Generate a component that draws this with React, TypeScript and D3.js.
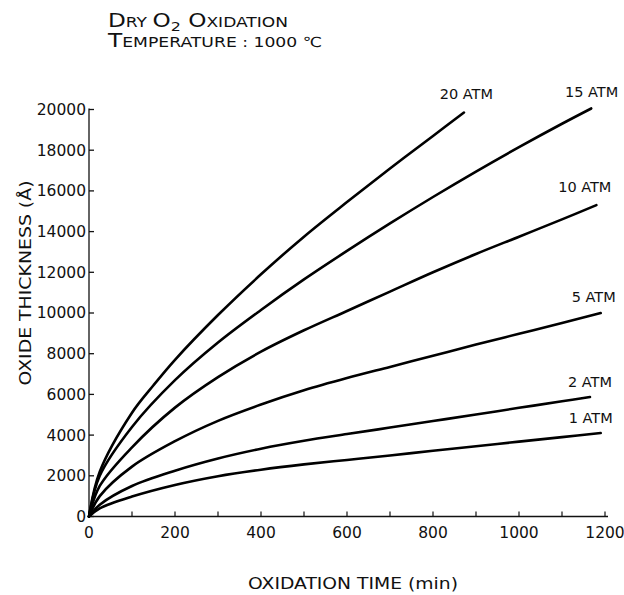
import React, { useEffect } from 'react';
import * as d3 from 'd3';

// oxidation time (min) and oxide thickness (Å)
const pressures = ['1 ATM', '2 ATM', '5 ATM', '10 ATM', '15 ATM', '20 ATM'];
const times1 = [0, 25, 100, 200, 300, 400, 500, 600, 700, 800, 900, 1000, 1100, 1190];
const thick1 = [0, 400, 980, 1550, 1980, 2300, 2560, 2780, 3000, 3230, 3450, 3680, 3900, 4100];
const times2 = [0, 25, 100, 200, 300, 400, 500, 600, 700, 800, 900, 1000, 1100, 1165];
const thick2 = [0, 580, 1500, 2250, 2850, 3330, 3720, 4050, 4370, 4690, 5010, 5340, 5660, 5870];
const times5 = [0, 25, 100, 200, 300, 400, 500, 600, 700, 800, 900, 1000, 1100, 1190];
const thick5 = [0, 1000, 2450, 3700, 4700, 5500, 6200, 6800, 7350, 7900, 8450, 8980, 9510, 10000];
const times10 = [0, 25, 100, 200, 300, 400, 500, 600, 700, 800, 900, 1000, 1100, 1180];
const thick10 = [0, 1500, 3400, 5350, 6850, 8100, 9150, 10100, 11050, 12000, 12900, 13750, 14600, 15300];
const times15 = [0, 25, 100, 200, 300, 400, 500, 600, 700, 800, 900, 1000, 1100, 1168];
const thick15 = [0, 2000, 4400, 6700, 8550, 10150, 11650, 13050, 14400, 15700, 16950, 18150, 19300, 20050];
const times20 = [0, 25, 100, 150, 200, 300, 400, 500, 600, 700, 800, 872];
const thick20 = [0, 2200, 5100, 6450, 7700, 9900, 11900, 13750, 15450, 17100, 18700, 19850];

const xTicks = [0, 200, 400, 600, 800, 1000, 1200];
const xMinorTicks = d3.range(0, 1201, 100);
const yTicks = d3.range(0, 20001, 2000);

const seriesTimes = [times1, times2, times5, times10, times15, times20];
const seriesThick = [thick1, thick2, thick5, thick10, thick15, thick20];
// where each curve label sits relative to the curve end (px)
const labelShift = [
  [12, -10],
  [22, -10],
  [15, -11],
  [15, -13],
  [27, -11],
  [29, -14],
];

const W = 624;
const H = 595;
const FONT = 'DejaVu Sans, sans-serif';

export default function App() {
  useEffect(() => {
    document.body.style.margin = '0';
  }, []);

  const x = d3.scaleLinear().domain([0, 1200]).range([89, 605]);
  const y = d3.scaleLinear().domain([0, 20000]).range([516.5, 109.5]);

  const series = pressures.map((name, i) => ({
    name,
    pts: seriesTimes[i].map((t, j) => [t, seriesThick[i][j]] as [number, number]),
    shift: labelShift[i],
  }));

  const line = d3
    .line<[number, number]>()
    .x((d) => x(d[0]))
    .y((d) => y(d[1]))
    .curve(d3.curveCatmullRom.alpha(0.5));

  const x0 = x(0);
  const y0 = y(0);

  return (
    <svg width={W} height={H} style={{ display: 'block', background: '#fff' }}>
      {/* title */}
      <text x={108} y={27} fontFamily={FONT} fill="#111" textLength={180} lengthAdjust="spacingAndGlyphs">
        <tspan fontSize={19}>D</tspan>
        <tspan fontSize={14}>RY </tspan>
        <tspan fontSize={19}> O</tspan>
        <tspan fontSize={13} dy={4}>2</tspan>
        <tspan fontSize={19} dy={-4}> O</tspan>
        <tspan fontSize={14}>XIDATION</tspan>
      </text>
      <text x={108} y={47} fontFamily={FONT} fill="#111" textLength={214} lengthAdjust="spacingAndGlyphs">
        <tspan fontSize={19}>T</tspan>
        <tspan fontSize={14}>EMPERATURE : 1000 ℃</tspan>
      </text>

      {/* axes */}
      <line x1={x0} x2={x0} y1={y0} y2={y(20000) - 1} stroke="#111" strokeWidth={1.3} />
      <line x1={x0} x2={x(1200) + 3} y1={y0} y2={y0} stroke="#111" strokeWidth={1.3} />
      {yTicks.map((t) => (
        <g key={'y' + t}>
          <line x1={x0} x2={x0 + 5} y1={y(t)} y2={y(t)} stroke="#111" strokeWidth={1.3} />
          <text
            x={x0 - 3}
            y={y(t)}
            dy="0.35em"
            textAnchor="end"
            fontFamily={FONT}
            fontSize={15.5}
            fill="#111"
          >
            {t}
          </text>
        </g>
      ))}
      {xMinorTicks.map((t) => (
        <line key={'xm' + t} x1={x(t)} x2={x(t)} y1={y0} y2={y0 - 5} stroke="#111" strokeWidth={1.2} />
      ))}
      {xTicks.map((t) => (
        <text
          key={'x' + t}
          x={x(t)}
          y={538}
          textAnchor="middle"
          fontFamily={FONT}
          fontSize={15.5}
          fill="#111"
        >
          {t}
        </text>
      ))}

      {/* axis titles */}
      <text x={353} y={589} textAnchor="middle" fontFamily={FONT} fontSize={15} fill="#111" textLength={210} lengthAdjust="spacingAndGlyphs">
        OXIDATION TIME (min)
      </text>
      <text
        transform={`translate(31, 283) rotate(-90)`}
        textAnchor="middle"
        fontFamily={FONT}
        fontSize={15}
        fill="#111"
        textLength={205}
        lengthAdjust="spacingAndGlyphs"
      >
        OXIDE THICKNESS (Å)
      </text>

      {/* curves */}
      {series.map((s) => {
        const last = s.pts[s.pts.length - 1];
        return (
          <g key={s.name}>
            <path d={line(s.pts) || ''} fill="none" stroke="#000" strokeWidth={2.6} strokeLinecap="round" />
            <text
              x={x(last[0]) + s.shift[0]}
              y={y(last[1]) + s.shift[1]}
              textAnchor="end"
              fontFamily={FONT}
              fontSize={14.5}
              fill="#111"
            >
              {s.name}
            </text>
          </g>
        );
      })}
    </svg>
  );
}
